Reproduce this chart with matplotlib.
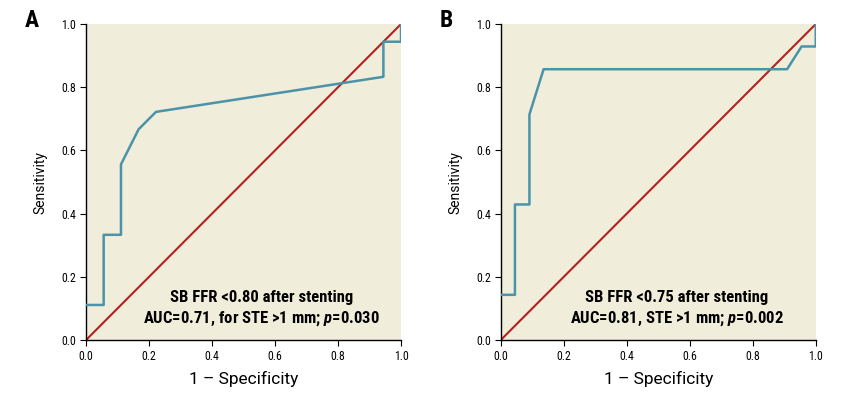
import matplotlib
matplotlib.use("Agg")
import matplotlib.pyplot as plt

# ROC curve points
a_fpr = [0.0, 0.056, 0.056, 0.111, 0.111, 0.167, 0.222, 0.944, 0.944, 1.0, 1.0]
a_tpr = [0.111, 0.111, 0.333, 0.333, 0.556, 0.667, 0.722, 0.833, 0.944, 0.944, 1.0]
b_fpr = [0.0, 0.045, 0.045, 0.091, 0.091, 0.136, 0.909, 0.955, 1.0, 1.0]
b_tpr = [0.143, 0.143, 0.429, 0.429, 0.714, 0.857, 0.857, 0.929, 0.929, 1.0]
ticks = [0.0, 0.2, 0.4, 0.6, 0.8, 1.0]
tick_labels = ["0.0", "0.2", "0.4", "0.6", "0.8", "1.0"]
a_text = ["SB FFR <0.80 after stenting", "AUC=0.71, for STE >1 mm; $\\mathit{p}$=0.030"]
b_text = ["SB FFR <0.75 after stenting", "AUC=0.81, STE >1 mm; $\\mathit{p}$=0.002"]

narrow = ["Roboto Condensed", "DejaVu Sans"]
plain = ["Roboto", "DejaVu Sans"]
plt.rcParams["font.family"] = narrow
plt.rcParams["mathtext.fontset"] = "custom"
plt.rcParams["mathtext.it"] = "Roboto Condensed:italic:bold"
plt.rcParams["mathtext.rm"] = "Roboto Condensed:bold"

bg = "#f1eddb"
teal = "#4a93a8"
red = "#b5201e"

fig = plt.figure(figsize=(8.56, 3.94), dpi=100)


def panel(left, fpr, tpr, text, letter, tx):
    ax = fig.add_axes([left, 0.137, 0.368, 0.802])
    ax.set_facecolor(bg)
    ax.plot([0, 1], [0, 1], color=red, lw=1.5, zorder=2)
    ax.plot(fpr, tpr, color=teal, lw=1.8, zorder=3)
    ax.set_xlim(0, 1)
    ax.set_ylim(0, 1)
    for s in ["top", "right"]:
        ax.spines[s].set_visible(False)
    ax.spines["left"].set_linewidth(1.0)
    ax.spines["bottom"].set_linewidth(1.0)
    ax.set_xticks(ticks)
    ax.set_xticklabels(tick_labels)
    ax.set_yticks(ticks)
    ax.set_yticklabels(tick_labels)
    ax.tick_params(labelsize=8.5, length=4, width=0.8, pad=3)
    ax.set_xlabel("1 \u2013 Specificity", fontsize=12.5, family=plain, labelpad=6)
    ax.set_ylabel("Sensitivity", fontsize=10, family=plain, labelpad=10)
    ax.text(tx, 0.133, text[0], transform=ax.transAxes, ha="center", va="center",
            fontsize=12, fontweight="bold")
    ax.text(tx, 0.068, text[1], transform=ax.transAxes, ha="center", va="center",
            fontsize=12, fontweight="bold")
    fig.text(left - 0.072, 0.948, letter, fontsize=17, fontweight="bold",
             ha="left", va="center")
    return ax


panel(0.1005, a_fpr, a_tpr, a_text, "A", 0.556)
panel(0.585, b_fpr, b_tpr, b_text, "B", 0.558)

fig.savefig("out.png", dpi=100)
